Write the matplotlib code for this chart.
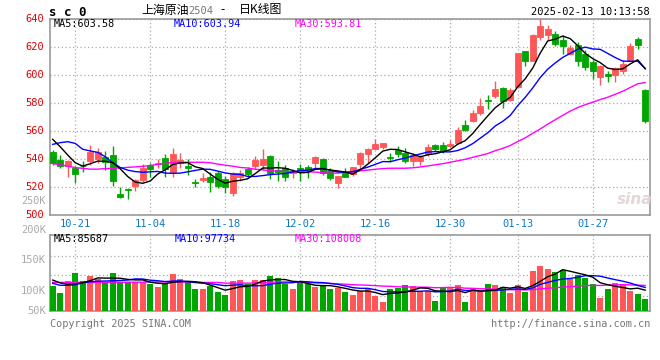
import matplotlib
matplotlib.use('Agg')
import matplotlib.pyplot as plt
import numpy as np
import pandas as pd

# ---------------- data ----------------
opens = [544.9, 538.9, 534.6, 533.4, 535.0, 538.4, 539.9, 541.3, 542.5, 514.6,
         518.4, 520.4, 524.6, 535.4, 535.9, 540.6, 530.2, 537.0, 534.9, 523.4,
         524.6, 527.0, 529.4, 525.4, 515.6, 526.6, 532.3, 534.6, 535.4, 541.8,
         531.5, 533.0, 529.4, 533.0, 534.1, 537.0, 539.6, 531.3, 522.3, 529.4,
         528.9, 535.9, 543.2, 546.8, 548.0, 541.2, 546.1, 543.7, 538.4, 538.4,
         543.2, 549.4, 549.4, 549.1, 551.1, 564.1, 567.0, 572.5, 582.0, 584.4,
         590.4, 582.0, 590.9, 617.0, 609.4, 627.0, 628.4, 628.9, 624.9, 614.6,
         620.9, 614.6, 608.9, 598.2, 600.4, 599.9, 602.7, 609.9, 625.4, 589.1]
highs = [546.1, 542.5, 538.6, 534.9, 538.2, 549.6, 547.3, 545.4, 548.9, 519.9,
         518.7, 525.4, 535.8, 536.6, 539.4, 543.2, 547.3, 543.7, 539.4, 525.4,
         529.4, 530.6, 531.1, 527.5, 530.6, 531.8, 534.1, 541.8, 546.6, 542.5,
         538.2, 535.4, 532.3, 535.8, 535.4, 542.0, 540.1, 533.0, 527.5, 533.0,
         534.1, 544.9, 547.3, 553.9, 551.3, 543.7, 549.1, 547.3, 543.9, 542.7,
         550.4, 550.4, 551.9, 553.0, 562.3, 567.7, 574.9, 583.2, 585.1, 595.6,
         591.1, 590.4, 615.4, 617.0, 628.9, 640.0, 635.6, 631.3, 628.0, 621.3,
         623.2, 617.7, 610.6, 607.0, 602.7, 605.1, 610.6, 622.5, 626.6, 589.9]
lows = [535.4, 533.4, 527.0, 522.7, 530.6, 535.4, 537.0, 531.8, 520.4, 511.8,
        510.9, 517.0, 523.4, 526.6, 533.0, 527.0, 526.6, 533.4, 528.2, 519.9,
        523.4, 516.3, 518.7, 515.1, 513.4, 524.1, 526.6, 532.3, 531.8, 525.4,
        523.9, 523.9, 526.3, 524.1, 526.3, 533.4, 528.2, 524.6, 519.1, 526.6,
        527.5, 531.8, 536.6, 546.8, 546.8, 537.7, 540.9, 536.6, 534.4, 535.6,
        541.6, 545.1, 543.9, 548.0, 550.4, 559.4, 566.2, 571.3, 575.6, 583.2,
        576.1, 580.9, 590.4, 605.9, 609.4, 624.9, 624.9, 620.1, 614.9, 614.1,
        606.3, 603.0, 597.0, 592.7, 594.6, 594.4, 600.4, 609.4, 618.4, 565.4]
closes = [536.6, 534.9, 538.2, 528.9, 534.3, 544.9, 544.4, 537.7, 524.1, 512.2,
          517.3, 524.6, 533.2, 532.3, 537.0, 532.7, 543.2, 538.9, 533.4, 522.3,
          526.3, 523.4, 520.4, 519.4, 529.4, 529.4, 528.9, 538.9, 539.4, 529.4,
          530.5, 527.0, 531.1, 530.6, 531.1, 541.3, 529.4, 526.3, 527.5, 527.0,
          534.1, 544.1, 546.8, 550.4, 550.9, 540.7, 543.2, 538.4, 542.7, 540.9,
          548.0, 547.0, 545.1, 550.4, 560.6, 560.6, 572.5, 577.3, 580.9, 589.9,
          580.9, 589.1, 615.4, 609.4, 628.0, 634.4, 632.5, 621.8, 620.6, 618.9,
          609.4, 605.1, 602.7, 606.3, 599.1, 604.6, 607.5, 620.1, 621.3, 567.0]
# volume (thousands)
volumes_k = [105, 77, 126, 161, 126, 147, 134, 123, 161, 123,
             123, 123, 123, 112, 102, 112, 155, 134, 121, 92,
             92, 105, 81, 67, 126, 130, 113, 130, 130, 148,
             140, 113, 92, 121, 112, 102, 106, 92, 95, 81,
             67, 84, 92, 64, 37, 92, 95, 109, 105, 84,
             84, 42, 101, 95, 109, 38, 95, 81, 113, 109,
             101, 76, 109, 79, 168, 189, 176, 163, 172, 134,
             151, 140, 113, 56, 92, 119, 113, 84, 71, 50]

# moving-average values before enough history is visible
ma5_head = [553.7, 548.4, 542.5, 537.0]
ma10_head = [550.1, 551.3, 552.0, 550.8, 546.6, 545.4, 544.4, 541.3, 537.0]
ma30_head = [536.4, 535.5, 534.5, 533.5, 533.0, 532.4, 532.4, 532.8, 533.0, 533.3,
             533.7, 534.0, 534.4, 535.0, 535.8, 536.6, 537.0, 537.3, 537.3, 537.3,
             537.3, 537.0, 536.0, 535.2, 534.5, 533.6, 533.2, 532.3, 531.9]
vma5_head = [130, 118, 112, 114]
vma10_head = [116, 108, 108, 110, 118, 123, 125, 126, 127]
vma30_head = [120, 120, 120, 120, 120, 120, 121, 121, 121, 121,
              121, 121, 121, 122, 122, 122, 122, 122, 122, 120,
              120, 120, 120, 117, 117, 117, 117, 118, 118]

tick_idx = [3, 13, 23, 33, 43, 53, 62, 72]
tick_labels = ['10-21', '11-04', '11-18', '12-02', '12-16', '12-30', '01-13', '01-27']
price_ticks = [500, 520, 540, 560, 580, 600, 620, 640]

legend_price = ['MA5:603.58', 'MA10:603.94', 'MA30:593.81']
legend_vol = ['MA5:85687', 'MA10:97734', 'MA30:108008']
vol_labels = ['200K', '150K', '100K', '50K']

# ---------------- derived ----------------
o = np.array(opens); h = np.array(highs); l = np.array(lows); c = np.array(closes)
v = np.array(volumes_k) * 1000.0
x = np.arange(len(c))

def ma(arr, n, head):
    s = pd.Series(arr).rolling(n).mean().to_numpy()
    s[:n - 1] = head
    return s

ma5 = ma(c, 5, ma5_head)
ma10 = ma(c, 10, ma10_head)
ma30 = ma(c, 30, ma30_head)
vma5 = ma(v, 5, np.array(vma5_head) * 1000)
vma10 = ma(v, 10, np.array(vma10_head) * 1000)
vma30 = ma(v, 30, np.array(vma30_head) * 1000)

# ---------------- styling ----------------
W, H = 660, 360
RED = '#ff5757'
GREEN = '#00a600'
GRID = '#aaaaaa'
SPINE = '#999999'
MONO = 'DejaVu Sans Mono'
CJK = ['Noto Sans CJK SC', 'DejaVu Sans']

def fx(px):
    return px / W

def fy(py):
    return 1 - py / H

fig = plt.figure(figsize=(6.6, 3.6), dpi=100)
fig.patch.set_facecolor('white')

xlo, xhi = -0.36, 79.64

# main panel
ax = fig.add_axes([fx(50), fy(214.5), 600 / W, 196 / H])
ax.set_xlim(xlo, xhi)
ax.set_ylim(500, 640)

up = c >= o
colors = np.where(up, RED, GREEN)
ax.vlines(x, l, h, colors=colors, lw=1.0, zorder=3)
ax.bar(x, np.abs(c - o), bottom=np.minimum(o, c), width=0.8, color=colors,
       edgecolor=colors, linewidth=0.6, zorder=4)
ax.plot(x, ma30, color='#ff00ff', lw=1.0, zorder=5)
ax.plot(x, ma10, color='#0000ff', lw=1.0, zorder=5)
ax.plot(x, ma5, color='black', lw=1.0, zorder=5)

ax.set_yticks(price_ticks)
ax.set_yticklabels([str(p) for p in price_ticks])
ax.set_xticks(tick_idx)
ax.set_xticklabels(tick_labels)
ax.tick_params(axis='y', length=0, pad=4, labelcolor='#e60000', labelsize=7.5)
ax.tick_params(axis='x', length=0, pad=3, labelcolor='#0a78c8', labelsize=7.5)
for t in ax.get_yticklabels() + ax.get_xticklabels():
    t.set_fontfamily(MONO)
ax.grid(True, color=GRID, linestyle=(0, (1, 2)), lw=0.9)
for s in ax.spines.values():
    s.set_color(SPINE)
    s.set_linewidth(1.2)

# legend in main panel
for txt, col, px in zip(legend_price, ['black', '#0000ff', '#ff00ff'], [54, 174, 295]):
    fig.text(fx(px), fy(24), txt, color=col, fontsize=7.3, family=MONO, va='center', ha='left')

fig.text(fx(46), fy(201), '250K', color='#aaaaaa', fontsize=7.3, family=MONO,
         ha='right', va='center')
fig.text(fx(635), fy(199), 'sina', color='#e2d6d6', fontsize=11, style='italic',
         weight='bold', ha='center', va='center')

# volume panel
vax = fig.add_axes([fx(50), fy(311), 600 / W, 76 / H])
vax.set_xlim(xlo, xhi)
vtop = 319200
vax.set_ylim(0, vtop)
vax.bar(x, v, width=0.85, color=colors, zorder=3)
vax.plot(x, vma30, color='#ff00ff', lw=1.0, zorder=5)
vax.plot(x, vma10, color='#0000ff', lw=1.0, zorder=5)
vax.plot(x, vma5, color='black', lw=1.0, zorder=5)
vax.set_xticks(tick_idx)
vax.set_xticklabels([])
vax.set_yticks([0.2 * vtop, 0.474 * vtop, 0.728 * vtop])
vax.set_yticklabels([])
vax.tick_params(length=0)
vax.grid(True, color=GRID, linestyle=(0, (1, 2)), lw=0.9)
for s in vax.spines.values():
    s.set_color(SPINE)
    s.set_linewidth(1.2)

for txt, col, px in zip(legend_vol, ['black', '#0000ff', '#ff00ff'], [54, 175, 295]):
    fig.text(fx(px), fy(239), txt, color=col, fontsize=7.3, family=MONO, va='center', ha='left')

for txt, py in zip(vol_labels, [230, 260, 291, 311]):
    fig.text(fx(46), fy(py), txt, color='#aaaaaa', fontsize=7.5, family=MONO,
             ha='right', va='center')

# header
fig.text(fx(49), fy(12), 's c 0', color='black', fontsize=9, family=MONO,
         weight='bold', ha='left', va='center')
fig.text(fx(141), fy(10), '上海原油', color='black', fontsize=8.6, family=CJK,
         ha='left', va='center')
fig.text(fx(188), fy(11), '2504', color='#777777', fontsize=7.5, family=MONO,
         ha='left', va='center')
fig.text(fx(220), fy(10), '-', color='black', fontsize=8.6, family=CJK,
         ha='left', va='center')
fig.text(fx(239), fy(10), '日K线图', color='black', fontsize=8.6, family=CJK,
         ha='left', va='center')
fig.text(fx(650), fy(12), '2025-02-13 10:13:58', color='black', fontsize=7.5,
         family=MONO, ha='right', va='center')

# footer
fig.text(fx(50), fy(324), 'Copyright 2025 SINA.COM', color='#777777', fontsize=7.4,
         family=MONO, ha='left', va='center')
fig.text(fx(650), fy(324), 'http://finance.sina.com.cn', color='#777777', fontsize=7.4,
         family=MONO, ha='right', va='center')

fig.savefig('out.png', dpi=100, facecolor='white')
